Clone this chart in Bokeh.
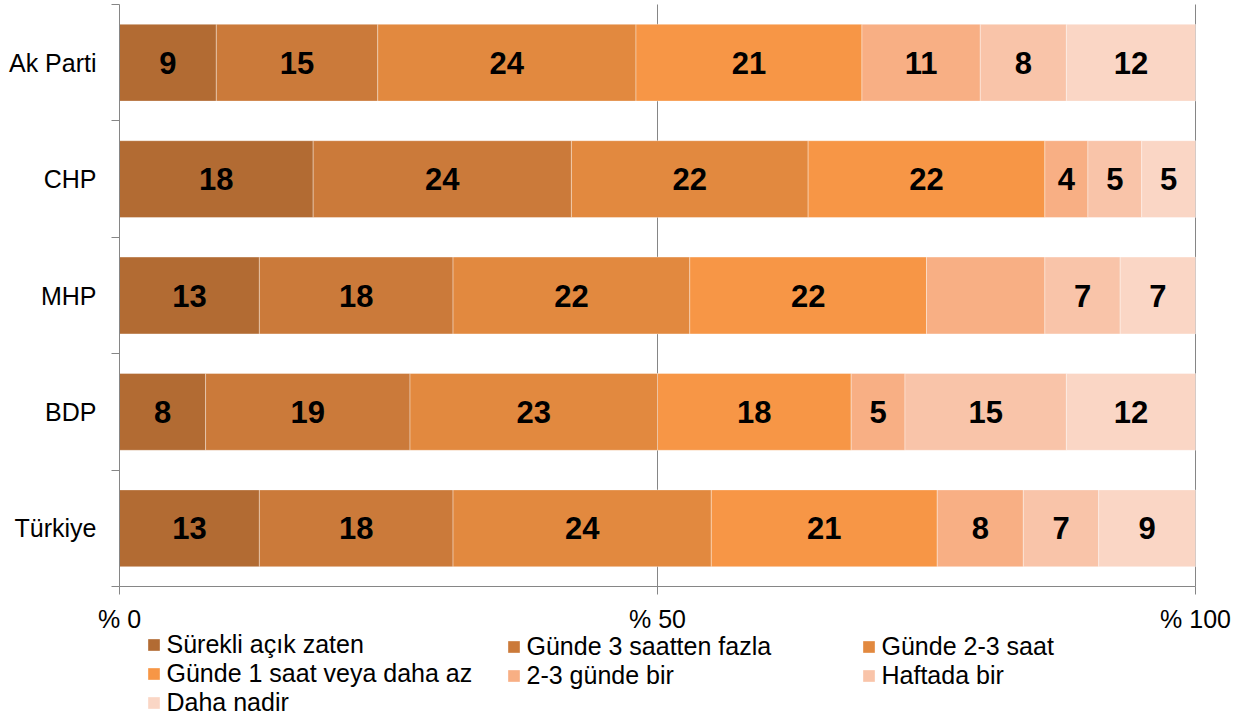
from bokeh.plotting import figure
from bokeh.models import Range1d, FixedTicker, Legend, LegendItem, ColumnDataSource
from bokeh.core.properties import value
from bokeh.embed import file_html
from bokeh.resources import INLINE

# ---- data ----
categories = ["Ak Parti", "CHP", "MHP", "BDP", "Türkiye"]
series_names = ["Sürekli açık zaten", "Günde 3 saatten fazla", "Günde 2-3 saat",
                "Günde 1 saat veya daha az", "2-3 günde bir", "Haftada bir", "Daha nadir"]
surekli = [9, 18, 13, 8, 13]
gunde3_fazla = [15, 24, 18, 19, 18]
gunde2_3 = [24, 22, 22, 23, 24]
gunde1 = [21, 22, 22, 18, 21]
gun2_3_bir = [11, 4, 11, 5, 8]
haftada = [8, 5, 7, 15, 7]
nadir = [12, 5, 7, 12, 9]
series_values = [surekli, gunde3_fazla, gunde2_3, gunde1, gun2_3_bir, haftada, nadir]
hidden_labels = [("MHP", "2-3 günde bir")]  # label not shown in the original
x_ticks = [0, 50, 100]
x_tick_labels = ["% 0", "% 50", "% 100"]

colors = ["#B26B33", "#CB7A3A", "#E2893F", "#F79646", "#F8AF84", "#F9C4A9", "#FAD6C5"]

FONT = "Liberation Sans"
GRAY = "#868686"

# ---- layout (pixels) ----
FIG_W, FIG_H = 1240, 720
PX_X0, PX_X1 = 119, 1195          # pixel columns of x = 0 and x = 100
PX_TOP, PX_AXIS = 4, 586          # pixel rows of the top and bottom of the category area
n = len(categories)
px_x = (PX_X1 - PX_X0) / (x_ticks[-1] - x_ticks[0])
px_y = (PX_AXIS - PX_TOP) / n
x_start = x_ticks[0] - PX_X0 / px_x
x_end = x_ticks[0] + (FIG_W - PX_X0) / px_x
y_end = n + PX_TOP / px_y
y_start = -(FIG_H - PX_AXIS) / px_y

ycent = [n - i - 0.5 for i in range(n)]

p = figure(width=FIG_W, height=FIG_H, output_backend="svg", toolbar_location=None,
           x_range=Range1d(x_start, x_end), y_range=Range1d(y_start, y_end),
           min_border=0)
p.outline_line_color = None
p.background_fill_color = "white"
p.xgrid.visible = False
p.ygrid.visible = False

# gridlines at the x ticks (only across the bar area)
gx = x_ticks[1:]
p.segment(x0=gx, x1=gx, y0=[0] * len(gx), y1=[n] * len(gx), line_color=GRAY, line_width=1)

left = [0.0] * n
renderers = []
for name, vals, col in zip(series_names, series_values, colors):
    right = [l + v for l, v in zip(left, vals)]
    src = ColumnDataSource(dict(y=ycent, left=left, right=right))
    r = p.hbar(y="y", left="left", right="right", height=0.66, source=src,
               fill_color=col, line_color="white", line_alpha=0.35, line_width=1)
    renderers.append(r)
    lx, ly, lt = [], [], []
    for i, c in enumerate(categories):
        if (c, name) in hidden_labels:
            continue
        lx.append((left[i] + right[i]) / 2)
        ly.append(ycent[i])
        lt.append(str(vals[i]))
    p.text(x=lx, y=ly, text=lt, text_align="center", text_baseline="middle",
           text_font=value(FONT), text_font_style="bold", text_font_size="31px",
           text_color="black")
    left = right

# axes (placed at data positions inside the frame)
xa = p.xaxis[0]
xa.fixed_location = 0
xa.bounds = (x_ticks[0], x_ticks[-1])
xa.ticker = FixedTicker(ticks=x_ticks)
xa.major_label_overrides = {t: l for t, l in zip(x_ticks, x_tick_labels)}
xa.axis_line_color = GRAY
xa.major_tick_line_color = GRAY
xa.major_tick_in = 0
xa.major_tick_out = 8
xa.minor_tick_line_color = None
xa.major_label_text_font = FONT
xa.major_label_text_font_size = "25px"
xa.major_label_text_color = "black"
xa.major_label_standoff = 10

ya = p.yaxis[0]
ya.fixed_location = 0
ya.bounds = (0, n)
ya.ticker = FixedTicker(ticks=ycent, minor_ticks=list(range(n + 1)))
ya.major_label_overrides = {y: c for y, c in zip(ycent, categories)}
ya.axis_line_color = GRAY
ya.major_tick_line_color = None
ya.major_tick_in = 0
ya.major_tick_out = 0
ya.minor_tick_line_color = GRAY
ya.minor_tick_in = 0
ya.minor_tick_out = 8
ya.major_label_text_font = FONT
ya.major_label_text_font_size = "25px"
ya.major_label_text_color = "black"
ya.major_label_standoff = 15

# legend: three columns, filled row by row like the original
ITEM_H = 28.5
SPACING = -1
ROW1_CENTER = 648
cols = [[0, 3, 6], [1, 4], [2, 5]]
col_px = [145.5, 505.5, 860.5]
for cidx, xs in zip(cols, col_px):
    items = [LegendItem(label=series_names[k], renderers=[renderers[k]]) for k in cidx]
    top_px = ROW1_CENTER - ITEM_H / 2
    bottom_px = top_px + ITEM_H * len(cidx) + SPACING * (len(cidx) - 1)
    lg = Legend(items=items, location=(xs, FIG_H - bottom_px), orientation="vertical",
                glyph_width=15, glyph_height=15, label_height=27, label_standoff=6,
                spacing=SPACING, padding=0, margin=0, border_line_color=None,
                background_fill_alpha=0, label_text_font=FONT,
                label_text_font_size="25px", label_text_color="black")
    p.add_layout(lg, "center")

open("out.html", "w").write(file_html(p, INLINE))
